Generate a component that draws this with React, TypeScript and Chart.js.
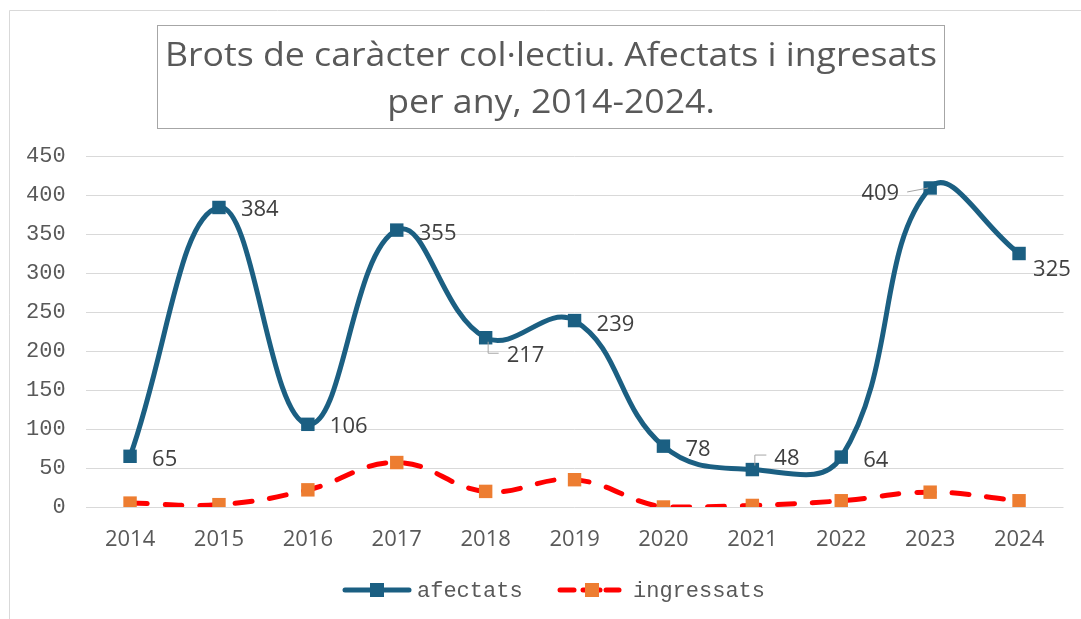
import React, { useEffect, useRef } from "react";
import { Chart, registerables } from "chart.js";

Chart.register(...registerables);

const years = ["2014", "2015", "2016", "2017", "2018", "2019", "2020", "2021", "2022", "2023", "2024"];
const afectats = [65, 384, 106, 355, 217, 239, 78, 48, 64, 409, 325];
const ingressats = [5, 3, 22, 57, 20, 35, 0, 2, 8, 19, 8];
const titleLines = ["Brots de caràcter col·lectiu. Afectats i ingresats", "per any, 2014-2024."];
const seriesNames = ["afectats", "ingressats"];

const BLUE = "#1b5f82";
const RED = "#ff0000";
const ORANGE = "#ed7d31";
const MONO = "'Liberation Mono', monospace";
const SANS = "'Open Sans', sans-serif";

// label placement for afectats data labels: [dx, dy, align, leader]
const labelPlacement: [number, number, CanvasTextAlign, string][] = [
  [22, 2, "left", ""],
  [22, 1, "left", ""],
  [22, 1, "left", ""],
  [22, 2, "left", ""],
  [21, 16, "left", "below"],
  [22, 2, "left", ""],
  [22, 2, "left", ""],
  [22, -13, "left", "above"],
  [22, 2, "left", ""],
  [-31, 4, "right", "left"],
  [14, 14, "left", ""],
];

const framePlugin = {
  id: "frameTitle",
  beforeDraw(chart: any) {
    const ctx = chart.ctx as CanvasRenderingContext2D;
    ctx.save();
    ctx.fillStyle = "#ffffff";
    ctx.fillRect(0, 0, chart.width, chart.height);
    ctx.strokeStyle = "#d9d9d9";
    ctx.lineWidth = 1;
    ctx.beginPath();
    ctx.moveTo(9.5, chart.height);
    ctx.lineTo(9.5, 10.5);
    ctx.lineTo(chart.width, 10.5);
    ctx.stroke();
    // title box
    ctx.strokeStyle = "#a6a6a6";
    ctx.strokeRect(157.5, 25.5, 787, 103);
    ctx.fillStyle = "#595959";
    ctx.font = `32px ${SANS}`;
    ctx.textAlign = "center";
    ctx.textBaseline = "alphabetic";
    const w0 = ctx.measureText(titleLines[0]).width;
    const sx = 772 / w0;
    const cx = 551;
    const baselines = [66, 113];
    titleLines.forEach((t, i) => {
      ctx.save();
      ctx.translate(cx, baselines[i]);
      ctx.scale(sx, 1);
      ctx.fillText(t, 0, 0);
      ctx.restore();
    });
    ctx.restore();
  },
};

const legendPlugin = {
  id: "customLegend",
  afterDraw(chart: any) {
    const ctx = chart.ctx as CanvasRenderingContext2D;
    const y = 590;
    ctx.save();
    ctx.lineWidth = 5;
    ctx.lineCap = "round";
    // afectats
    ctx.strokeStyle = BLUE;
    ctx.beginPath();
    ctx.moveTo(345, y);
    ctx.lineTo(409, y);
    ctx.stroke();
    ctx.fillStyle = BLUE;
    ctx.fillRect(370, y - 7, 14, 14);
    // ingressats
    ctx.strokeStyle = RED;
    const segs = [
      [560, 574],
      [583, 600],
      [606, 619],
    ];
    for (const [a, b] of segs) {
      ctx.beginPath();
      ctx.moveTo(a, y);
      ctx.lineTo(b, y);
      ctx.stroke();
    }
    ctx.fillStyle = ORANGE;
    ctx.fillRect(585, y - 7, 14, 14);
    ctx.fillStyle = "#595959";
    ctx.font = `22px ${MONO}`;
    ctx.textAlign = "left";
    ctx.textBaseline = "middle";
    ctx.fillText(seriesNames[0], 417, y + 1);
    ctx.fillText(seriesNames[1], 633, y + 1);
    ctx.restore();
  },
};

const dataLabelPlugin = {
  id: "dataLabels",
  afterDatasetsDraw(chart: any) {
    const ctx = chart.ctx as CanvasRenderingContext2D;
    const meta = chart.getDatasetMeta(0);
    ctx.save();
    ctx.font = `22px ${SANS}`;
    ctx.fillStyle = "#404040";
    ctx.textBaseline = "alphabetic";
    meta.data.forEach((pt: any, i: number) => {
      const [dx, dy, align, leader] = labelPlacement[i];
      const x = pt.x;
      const y = pt.y;
      ctx.textAlign = align;
      ctx.fillText(String(afectats[i]), x + dx, y + dy + 8);
      if (leader) {
        ctx.strokeStyle = "#a6a6a6";
        ctx.lineWidth = 1;
        ctx.beginPath();
        if (leader === "below") {
          ctx.moveTo(x + 2.5, y + 4);
          ctx.lineTo(x + 2.5, y + 15.5);
          ctx.lineTo(x + 13, y + 15.5);
        } else if (leader === "above") {
          ctx.moveTo(x + 2.5, y - 4);
          ctx.lineTo(x + 2.5, y - 14.5);
          ctx.lineTo(x + 14, y - 14.5);
        } else if (leader === "left") {
          ctx.moveTo(x - 23, y + 4);
          ctx.lineTo(x - 2, y);
        }
        ctx.stroke();
      }
    });
    ctx.restore();
  },
};

export default function App() {
  const ref = useRef<HTMLCanvasElement | null>(null);
  useEffect(() => {
    if (!ref.current) return;
    const chart = new Chart(ref.current, {
      type: "line",
      data: {
        labels: years,
        datasets: [
          {
            label: seriesNames[0],
            data: afectats,
            borderColor: BLUE,
            backgroundColor: BLUE,
            borderWidth: 5,
            tension: 0.42,
            pointStyle: "rect",
            pointRadius: 9.5,
            pointBorderWidth: 0,
            pointBackgroundColor: BLUE,
            order: 1,
          },
          {
            label: seriesNames[1],
            data: ingressats,
            borderColor: RED,
            backgroundColor: ORANGE,
            borderWidth: 5,
            borderDash: [17, 18],
            borderCapStyle: "round",
            tension: 0.42,
            pointStyle: "rect",
            pointRadius: 9.5,
            pointBorderWidth: 0,
            pointBackgroundColor: ORANGE,
            order: 2,
          },
        ],
      },
      options: {
        responsive: false,
        animation: false,
        devicePixelRatio: 1,
        layout: { padding: { top: 156, left: 6, right: 17.5, bottom: 45.6 } },
        plugins: {
          title: { display: false },
          tooltip: { enabled: false },
          legend: { display: false },
        },
        scales: {
          x: {
            offset: true,
            grid: { display: false, drawTicks: false },
            border: { display: false },
            ticks: { color: "#595959", font: { family: SANS, size: 22 }, padding: 20, maxRotation: 0 },
          },
          y: {
            min: 0,
            max: 450,
            grid: { color: "#d9d9d9", lineWidth: 1, drawTicks: false },
            border: { display: false },
            ticks: { stepSize: 50, color: "#595959", font: { family: MONO, size: 22 }, padding: 20 },
          },
        },
      },
      plugins: [framePlugin, dataLabelPlugin, legendPlugin],
    });
    return () => chart.destroy();
  }, []);
  return (
    <div style={{ position: "fixed", left: 0, top: 0, width: 1081, height: 619, background: "#fff" }}>
      <canvas ref={ref} width={1081} height={619} style={{ display: "block" }} />
    </div>
  );
}
